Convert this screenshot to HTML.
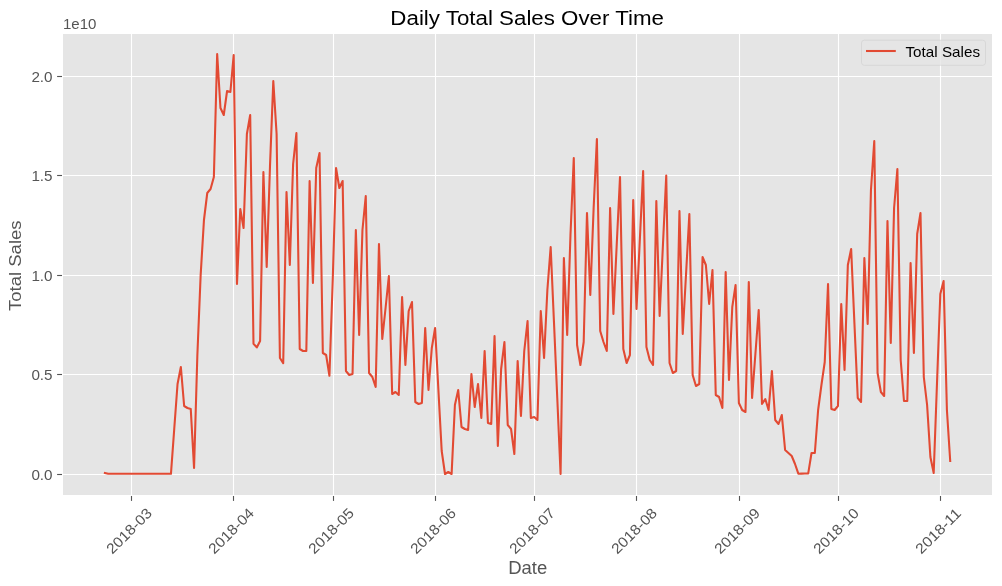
<!DOCTYPE html>
<html><head><meta charset="utf-8"><title>Daily Total Sales Over Time</title>
<style>html,body{margin:0;padding:0;background:#fff;width:1002px;height:586px;overflow:hidden}svg{display:block;will-change:transform}text{font-family:"Liberation Sans", sans-serif}</style>
</head><body>
<svg width="1002" height="586" viewBox="0 0 1002 586">
<rect x="0" y="0" width="1002" height="586" fill="#fff"/>
<rect x="63.0" y="34.0" width="929.0" height="461.0" fill="#E5E5E5"/>
<line x1="63.0" y1="474.5" x2="992.0" y2="474.5" stroke="#fff" stroke-width="1.11"/>
<line x1="63.0" y1="374.5" x2="992.0" y2="374.5" stroke="#fff" stroke-width="1.11"/>
<line x1="63.0" y1="275.5" x2="992.0" y2="275.5" stroke="#fff" stroke-width="1.11"/>
<line x1="63.0" y1="175.5" x2="992.0" y2="175.5" stroke="#fff" stroke-width="1.11"/>
<line x1="63.0" y1="76.5" x2="992.0" y2="76.5" stroke="#fff" stroke-width="1.11"/>
<line x1="131.5" y1="34.0" x2="131.5" y2="495.0" stroke="#fff" stroke-width="1.11"/>
<line x1="233.5" y1="34.0" x2="233.5" y2="495.0" stroke="#fff" stroke-width="1.11"/>
<line x1="333.5" y1="34.0" x2="333.5" y2="495.0" stroke="#fff" stroke-width="1.11"/>
<line x1="435.5" y1="34.0" x2="435.5" y2="495.0" stroke="#fff" stroke-width="1.11"/>
<line x1="534.5" y1="34.0" x2="534.5" y2="495.0" stroke="#fff" stroke-width="1.11"/>
<line x1="636.5" y1="34.0" x2="636.5" y2="495.0" stroke="#fff" stroke-width="1.11"/>
<line x1="739.5" y1="34.0" x2="739.5" y2="495.0" stroke="#fff" stroke-width="1.11"/>
<line x1="838.5" y1="34.0" x2="838.5" y2="495.0" stroke="#fff" stroke-width="1.11"/>
<line x1="940.5" y1="34.0" x2="940.5" y2="495.0" stroke="#fff" stroke-width="1.11"/>
<line x1="57.1" y1="474.5" x2="62.0" y2="474.5" stroke="#555" stroke-width="1.11"/>
<line x1="57.1" y1="374.5" x2="62.0" y2="374.5" stroke="#555" stroke-width="1.11"/>
<line x1="57.1" y1="275.5" x2="62.0" y2="275.5" stroke="#555" stroke-width="1.11"/>
<line x1="57.1" y1="175.5" x2="62.0" y2="175.5" stroke="#555" stroke-width="1.11"/>
<line x1="57.1" y1="76.5" x2="62.0" y2="76.5" stroke="#555" stroke-width="1.11"/>
<line x1="131.5" y1="496.0" x2="131.5" y2="500.9" stroke="#555" stroke-width="1.11"/>
<line x1="233.5" y1="496.0" x2="233.5" y2="500.9" stroke="#555" stroke-width="1.11"/>
<line x1="333.5" y1="496.0" x2="333.5" y2="500.9" stroke="#555" stroke-width="1.11"/>
<line x1="435.5" y1="496.0" x2="435.5" y2="500.9" stroke="#555" stroke-width="1.11"/>
<line x1="534.5" y1="496.0" x2="534.5" y2="500.9" stroke="#555" stroke-width="1.11"/>
<line x1="636.5" y1="496.0" x2="636.5" y2="500.9" stroke="#555" stroke-width="1.11"/>
<line x1="739.5" y1="496.0" x2="739.5" y2="500.9" stroke="#555" stroke-width="1.11"/>
<line x1="838.5" y1="496.0" x2="838.5" y2="500.9" stroke="#555" stroke-width="1.11"/>
<line x1="940.5" y1="496.0" x2="940.5" y2="500.9" stroke="#555" stroke-width="1.11"/>
<path d="M104.90,473.00 L108.20,473.80 L111.50,473.80 L114.81,473.80 L118.11,473.80 L121.41,473.80 L124.71,473.80 L128.01,473.80 L131.32,473.80 L134.62,473.80 L137.92,473.80 L141.22,473.80 L144.52,473.80 L147.83,473.80 L151.13,473.80 L154.43,473.80 L157.73,473.80 L161.03,473.80 L164.34,473.80 L167.64,473.80 L170.94,473.80 L174.24,429.00 L177.54,384.00 L180.85,367.00 L184.15,406.00 L187.45,408.00 L190.75,409.00 L194.05,468.00 L197.36,355.00 L200.66,275.00 L203.96,220.00 L207.26,193.00 L210.56,189.00 L213.87,177.00 L217.17,54.00 L220.47,108.00 L223.77,115.00 L227.07,91.00 L230.38,92.00 L233.68,55.00 L236.98,284.00 L240.28,209.00 L243.58,228.00 L246.89,134.00 L250.19,115.00 L253.49,343.80 L256.79,347.40 L260.09,341.00 L263.40,172.00 L266.70,267.00 L270.00,166.00 L273.30,81.00 L276.60,134.00 L279.91,358.00 L283.21,363.20 L286.51,192.00 L289.81,265.00 L293.11,164.00 L296.42,133.00 L299.72,349.00 L303.02,351.00 L306.32,351.00 L309.62,181.00 L312.93,283.00 L316.23,168.00 L319.53,153.00 L322.83,353.00 L326.13,355.00 L329.44,375.80 L332.74,280.00 L336.04,168.00 L339.34,188.00 L342.64,181.00 L345.95,371.00 L349.25,375.00 L352.55,374.00 L355.85,230.00 L359.15,335.00 L362.46,230.00 L365.76,196.00 L369.06,373.00 L372.36,377.00 L375.66,387.00 L378.97,244.00 L382.27,339.00 L385.57,308.00 L388.87,276.00 L392.17,394.00 L395.48,392.00 L398.78,395.00 L402.08,297.00 L405.38,365.00 L408.68,311.00 L411.99,302.00 L415.29,402.00 L418.59,404.00 L421.89,403.00 L425.19,328.00 L428.50,390.00 L431.80,348.00 L435.10,328.00 L438.40,390.00 L441.70,451.00 L445.01,474.00 L448.31,472.00 L451.61,474.00 L454.91,405.00 L458.21,390.00 L461.52,427.00 L464.82,429.00 L468.12,430.00 L471.42,374.00 L474.72,407.00 L478.03,384.00 L481.33,418.00 L484.63,351.00 L487.93,423.00 L491.23,424.00 L494.54,336.00 L497.84,446.00 L501.14,369.00 L504.44,342.00 L507.74,425.00 L511.05,429.00 L514.35,454.00 L517.65,361.00 L520.95,416.00 L524.25,351.00 L527.56,321.00 L530.86,418.00 L534.16,417.00 L537.46,420.00 L540.76,311.00 L544.07,358.00 L547.37,290.00 L550.67,247.00 L553.97,322.00 L557.27,398.00 L560.58,474.00 L563.88,258.00 L567.18,335.00 L570.48,235.00 L573.78,158.00 L577.09,345.00 L580.39,365.00 L583.69,342.00 L586.99,213.00 L590.29,295.00 L593.60,209.00 L596.90,139.00 L600.20,331.00 L603.50,342.00 L606.80,351.00 L610.11,208.00 L613.41,314.00 L616.71,245.00 L620.01,177.00 L623.31,349.00 L626.62,363.00 L629.92,355.00 L633.22,200.00 L636.52,309.00 L639.82,240.00 L643.13,171.00 L646.43,347.00 L649.73,360.00 L653.03,365.00 L656.33,201.00 L659.64,316.00 L662.94,245.00 L666.24,175.50 L669.54,363.00 L672.84,373.00 L676.15,371.00 L679.45,211.00 L682.75,334.00 L686.05,274.00 L689.35,214.00 L692.66,375.00 L695.96,386.00 L699.26,384.00 L702.56,257.00 L705.86,265.00 L709.17,304.00 L712.47,270.00 L715.77,395.00 L719.07,397.00 L722.37,408.00 L725.68,272.00 L728.98,380.00 L732.28,307.00 L735.58,285.00 L738.88,403.00 L742.19,410.00 L745.49,412.00 L748.79,282.00 L752.09,398.00 L755.39,354.00 L758.70,310.00 L762.00,404.00 L765.30,399.00 L768.60,410.00 L771.90,371.00 L775.21,420.00 L778.51,424.00 L781.81,415.00 L785.11,450.00 L788.41,453.00 L791.72,456.00 L795.02,464.00 L798.32,473.70 L801.62,473.60 L804.92,473.50 L808.23,473.40 L811.53,453.00 L814.83,453.00 L818.13,410.00 L821.43,385.00 L824.74,362.00 L828.04,284.00 L831.34,409.00 L834.64,410.00 L837.94,406.00 L841.25,304.00 L844.55,370.00 L847.85,265.00 L851.15,249.00 L854.45,324.00 L857.76,398.00 L861.06,402.00 L864.36,258.00 L867.66,324.00 L870.96,190.00 L874.27,141.00 L877.57,373.00 L880.87,392.00 L884.17,396.00 L887.47,221.00 L890.78,343.00 L894.08,208.00 L897.38,169.00 L900.68,360.00 L903.98,401.00 L907.29,401.00 L910.59,263.00 L913.89,353.00 L917.19,234.00 L920.49,213.00 L923.80,377.00 L927.10,405.00 L930.40,457.00 L933.70,473.00 L937.00,383.00 L940.31,294.00 L943.61,281.00 L946.91,410.00 L950.21,461.00" fill="none" stroke="#E24A33" stroke-width="2.08" stroke-linejoin="round" stroke-linecap="square"/>
<text x="52.60" y="479.50" text-anchor="end" font-size="14.50" fill="#555" textLength="21.20" lengthAdjust="spacingAndGlyphs">0.0</text>
<text x="52.60" y="379.50" text-anchor="end" font-size="14.50" fill="#555" textLength="21.20" lengthAdjust="spacingAndGlyphs">0.5</text>
<text x="52.60" y="280.50" text-anchor="end" font-size="14.50" fill="#555" textLength="21.20" lengthAdjust="spacingAndGlyphs">1.0</text>
<text x="52.60" y="180.50" text-anchor="end" font-size="14.50" fill="#555" textLength="21.20" lengthAdjust="spacingAndGlyphs">1.5</text>
<text x="52.60" y="81.50" text-anchor="end" font-size="14.50" fill="#555" textLength="21.20" lengthAdjust="spacingAndGlyphs">2.0</text>
<text transform="translate(153.00,514.20) rotate(-45)" text-anchor="end" font-size="14.50" fill="#555" textLength="57.48" lengthAdjust="spacingAndGlyphs">2018-03</text>
<text transform="translate(255.00,514.20) rotate(-45)" text-anchor="end" font-size="14.50" fill="#555" textLength="57.48" lengthAdjust="spacingAndGlyphs">2018-04</text>
<text transform="translate(355.00,514.20) rotate(-45)" text-anchor="end" font-size="14.50" fill="#555" textLength="57.48" lengthAdjust="spacingAndGlyphs">2018-05</text>
<text transform="translate(457.00,514.20) rotate(-45)" text-anchor="end" font-size="14.50" fill="#555" textLength="57.48" lengthAdjust="spacingAndGlyphs">2018-06</text>
<text transform="translate(556.00,514.20) rotate(-45)" text-anchor="end" font-size="14.50" fill="#555" textLength="57.48" lengthAdjust="spacingAndGlyphs">2018-07</text>
<text transform="translate(658.00,514.20) rotate(-45)" text-anchor="end" font-size="14.50" fill="#555" textLength="57.48" lengthAdjust="spacingAndGlyphs">2018-08</text>
<text transform="translate(761.00,514.20) rotate(-45)" text-anchor="end" font-size="14.50" fill="#555" textLength="57.48" lengthAdjust="spacingAndGlyphs">2018-09</text>
<text transform="translate(860.00,514.20) rotate(-45)" text-anchor="end" font-size="14.50" fill="#555" textLength="57.48" lengthAdjust="spacingAndGlyphs">2018-10</text>
<text transform="translate(962.00,514.20) rotate(-45)" text-anchor="end" font-size="14.50" fill="#555" textLength="57.48" lengthAdjust="spacingAndGlyphs">2018-11</text>
<text x="63.00" y="29.00" font-size="15.09" fill="#555" textLength="33.48" lengthAdjust="spacingAndGlyphs">1e10</text>
<text x="527.70" y="573.70" text-anchor="middle" font-size="17.46" fill="#555" textLength="39.03" lengthAdjust="spacingAndGlyphs">Date</text>
<text transform="translate(20.90,265.70) rotate(-90)" text-anchor="middle" font-size="16.65" fill="#555" textLength="90.43" lengthAdjust="spacingAndGlyphs">Total Sales</text>
<text x="527.20" y="25.35" text-anchor="middle" font-size="20.00" fill="#000" textLength="273.63" lengthAdjust="spacingAndGlyphs">Daily Total Sales Over Time</text>
<rect x="861.5" y="40.2" width="124" height="25.1" rx="2.8" ry="2.8" fill="#E5E5E5" fill-opacity="0.8" stroke="#CCCCCC" stroke-opacity="0.8" stroke-width="0.7"/>
<line x1="866" y1="51.0" x2="895.8" y2="51.0" stroke="#E24A33" stroke-width="2.08"/>
<text x="905.50" y="56.50" font-size="14.16" fill="#000" textLength="74.53" lengthAdjust="spacingAndGlyphs">Total Sales</text>
</svg>
</body></html>
